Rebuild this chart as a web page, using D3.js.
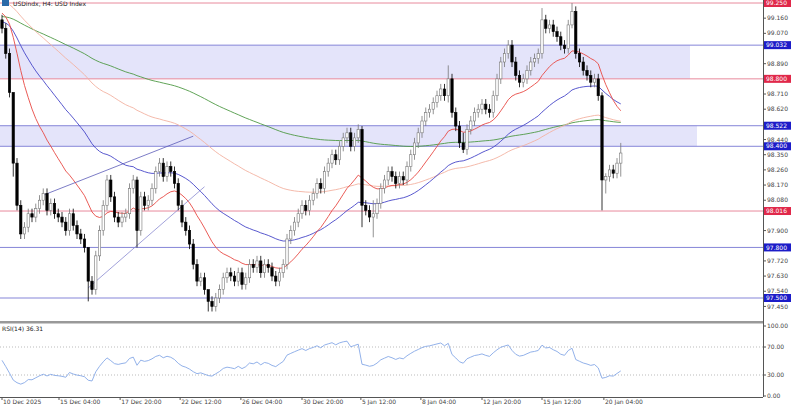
<!DOCTYPE html>
<html>
<head>
<meta charset="utf-8">
<script src="https://cdn.jsdelivr.net/npm/d3@7"></script>
<style>
body { margin: 0; background: #fff; }
text { font-family: "DejaVu Sans", sans-serif; }
</style>
</head>
<body>
<script>
// closes per H4 bar
var closes = [99.10,98.95,98.72,98.30,98.05,97.88,97.92,98.00,97.98,98.03,
  98.08,98.12,98.02,98.06,98.00,97.98,97.95,97.90,98.00,97.93,
  97.88,97.85,97.80,97.60,97.55,97.75,97.90,98.05,98.20,98.10,
  97.98,97.95,97.98,98.00,98.15,98.20,97.90,98.10,98.05,98.08,
  98.15,98.25,98.30,98.22,98.28,98.25,98.18,98.05,97.95,97.90,
  97.82,97.70,97.60,97.62,97.55,97.48,97.45,97.50,97.55,97.62,
  97.65,97.63,97.60,97.65,97.58,97.62,97.70,97.68,97.72,97.65,
  97.70,97.68,97.63,97.60,97.65,97.70,97.85,97.90,97.95,98.00,
  98.05,98.02,98.08,98.12,98.18,98.15,98.25,98.30,98.35,98.32,
  98.40,98.45,98.48,98.40,98.45,98.50,98.05,98.02,97.98,98.00,
  98.06,98.15,98.20,98.25,98.22,98.18,98.22,98.20,98.28,98.35,
  98.42,98.48,98.55,98.60,98.62,98.66,98.70,98.74,98.70,98.80,
  98.60,98.52,98.42,98.38,98.50,98.55,98.60,98.62,98.65,98.62,
  98.60,98.70,98.80,98.90,98.95,99.00,98.90,98.82,98.78,98.80,
  98.85,98.90,98.92,98.95,99.15,99.10,99.12,99.08,99.05,99.00,
  98.98,99.12,99.20,98.95,98.90,98.85,98.82,98.78,98.80,98.70,
  98.20,98.22,98.26,98.24,98.30,98.36];
var firstOpen = 99.15;
var wick = 0.03;
// notable wicks: [bar, high, low]
var bigWicks = [[3,98.38,98.22],[23,97.66,97.48],[36,98.22,97.80],[55,97.52,97.42],
  [96,98.52,97.92],[99,98.08,97.86],[119,98.88,98.66],[123,98.48,98.36],
  [144,99.22,98.92],[152,99.25,99.10],[160,98.72,98.02],[161,98.24,98.12],[165,98.42,98.22]];

var levels = [
  {v: 99.25, label: "99.250", c: "#e0284a"},
  {v: 99.00, label: "99.032", c: "#1c1cc8"},
  {v: 98.80, label: "98.800", c: "#e0284a"},
  {v: 98.522, label: "98.522", c: "#1c1cc8"},
  {v: 98.40, label: "98.400", c: "#1c1cc8"},
  {v: 98.016, label: "98.016", c: "#e0284a"},
  {v: 97.80, label: "97.800", c: "#1c1cc8"},
  {v: 97.50, label: "97.500", c: "#1c1cc8"}
];
var bands = [[99.00, 98.80, 690], [98.522, 98.40, 697]];
var priceTicks = [99.16,99.07,98.89,98.71,98.62,98.44,98.35,98.26,98.17,98.08,97.90,97.72,97.63,97.54,97.45];
var timeLabels = [[0,"10 Dec 2025"],[15.2,"15 Dec 04:00"],[31.5,"17 Dec 20:00"],[47.5,"22 Dec 12:00"],
  [63.7,"26 Dec 04:00"],[80,"30 Dec 20:00"],[95.7,"5 Jan 12:00"],[111.7,"8 Jan 04:00"],
  [128,"12 Jan 20:00"],[144,"15 Jan 12:00"],[160.5,"20 Jan 04:00"]];
var trendLines = [[[11,98.11],[51,98.46]], [[23,97.56],[54,98.16]]];
// moving averages: period, seed value, colour
var mas = [
  {p: 200, seed: 99.17, c: "#4f9a45"},
  {p: 100, seed: 99.26, c: "#f3b2a2"},
  {p: 50, seed: 99.14, c: "#4646c8"},
  {p: 20, seed: 99.20, c: "#e84a44"}
];

var W = 792, H = 405, plotR = 763;
var svg = d3.select("body").append("svg").attr("width", W).attr("height", H);

var x = d3.scaleLinear().domain([0, 1]).range([2, 5.75]);
var y = d3.scaleLinear().domain([97.50, 99.25]).range([298, 3]);
var yR = d3.scaleLinear().domain([0, 100]).range([396, 326]);

svg.append("clipPath").attr("id", "clip").append("rect")
  .attr("x", 0).attr("y", 0).attr("width", plotR).attr("height", 321);

// bands
svg.selectAll(".band").data(bands).enter().append("rect")
  .attr("x", 0).attr("y", function(d){ return y(d[0]); })
  .attr("width", function(d){ return d[2]; })
  .attr("height", function(d){ return y(d[1]) - y(d[0]); })
  .style("fill", "#e4e4fa");

// levels
svg.selectAll(".lvl").data(levels).enter().append("line")
  .attr("x1", 0).attr("x2", plotR)
  .attr("y1", function(d){ return y(d.v); }).attr("y2", function(d){ return y(d.v); })
  .style("stroke", function(d){ return d.c == "#e0284a" ? "#e88a9c" : "#8585d8"; })
  .style("stroke-width", 1);

var g = svg.append("g").attr("clip-path", "url(#clip)");

// moving averages
mas.forEach(function(m){
  var a = 2 / (m.p + 1), e = m.seed, pts = [];
  closes.forEach(function(c, i){ e = e + a * (c - e); pts.push([i, e]); });
  g.append("path").datum(pts)
    .attr("d", d3.line().x(function(d){ return x(d[0]); }).y(function(d){ return y(d[1]); }))
    .style("fill", "none").style("stroke", m.c).style("stroke-width", 0.9);
});

// trend lines
g.selectAll(".tl").data(trendLines).enter().append("line")
  .attr("x1", function(d){ return x(d[0][0]); }).attr("y1", function(d){ return y(d[0][1]); })
  .attr("x2", function(d){ return x(d[1][0]); }).attr("y2", function(d){ return y(d[1][1]); })
  .style("stroke", function(d, i){ return i == 0 ? "#5a5ab8" : "#8a8ad0"; }).style("stroke-width", 0.8);

// candles
var bars = closes.map(function(c, i){
  var o = i == 0 ? firstOpen : closes[i - 1];
  var hi = Math.max(o, c) + wick, lo = Math.min(o, c) - wick;
  bigWicks.forEach(function(w){ if (w[0] == i) { hi = w[1]; lo = w[2]; } });
  return {i: i, o: o, c: c, h: hi, l: lo};
});
var cg = g.selectAll(".candle").data(bars).enter().append("g");
cg.append("line")
  .attr("x1", function(d){ return x(d.i); }).attr("x2", function(d){ return x(d.i); })
  .attr("y1", function(d){ return y(d.h); }).attr("y2", function(d){ return y(d.l); })
  .style("stroke", function(d){ return d.c < d.o ? "#000" : "#777"; }).style("stroke-width", 0.8);
cg.append("rect")
  .attr("x", function(d){ return x(d.i) - 1.2; }).attr("width", 2.4)
  .attr("y", function(d){ return y(Math.max(d.o, d.c)); })
  .attr("height", function(d){ return Math.max(0.8, Math.abs(y(d.o) - y(d.c))); })
  .style("fill", function(d){ return d.c < d.o ? "#000" : "#fff"; })
  .style("stroke", function(d){ return d.c < d.o ? "#000" : "#777"; }).style("stroke-width", 0.6);

// title
svg.append("rect").attr("x", 2).attr("y", 0).attr("width", 7).attr("height", 6).style("fill", "#2a6aa8");
svg.append("text").attr("x", 13).attr("y", 6).style("font-size", "6px").style("fill", "#222")
  .text("USDindx, H4:  USD Index");

// axes frame
svg.append("line").attr("x1", plotR + 0.5).attr("x2", plotR + 0.5).attr("y1", 0).attr("y2", 397).style("stroke", "#555");
svg.append("rect").attr("x", 0).attr("y", 321).attr("width", plotR).attr("height", 2.5).style("fill", "#999");
svg.append("line").attr("x1", 0).attr("x2", plotR).attr("y1", 397.5).attr("y2", 397.5).style("stroke", "#555");

// price ticks
var pt = svg.selectAll(".pt").data(priceTicks).enter().append("g")
  .attr("transform", function(d){ return "translate(" + plotR + "," + y(d) + ")"; });
pt.append("line").attr("x1", 0).attr("x2", 3).style("stroke", "#555");
pt.append("text").attr("x", 4).attr("dy", "0.35em").style("font-size", "6px").style("fill", "#444")
  .text(function(d){ return d.toFixed(3); });

// level labels
var lb = svg.selectAll(".lb").data(levels).enter().append("g")
  .attr("transform", function(d){ return "translate(" + (plotR + 1) + "," + y(d.v) + ")"; });
lb.append("rect").attr("x", 0).attr("y", -4).attr("width", 27).attr("height", 8).style("fill", function(d){ return d.c; });
lb.append("text").attr("x", 2).attr("dy", "0.35em").style("font-size", "6px").style("fill", "#fff")
  .text(function(d){ return d.label; });

// RSI (Wilder, 14)
var ag = 0.03, al = 0.025, rsi = [];
closes.forEach(function(c, i){
  var ch = c - (i == 0 ? firstOpen : closes[i - 1]);
  ag = (ag * 13 + Math.max(ch, 0)) / 14;
  al = (al * 13 + Math.max(-ch, 0)) / 14;
  rsi.push([i, 100 - 100 / (1 + ag / al)]);
});
[70, 30].forEach(function(v){
  svg.append("line").attr("x1", 0).attr("x2", plotR).attr("y1", yR(v)).attr("y2", yR(v))
    .style("stroke", "#bbb").style("stroke-dasharray", "1,2");
});
svg.append("path").datum(rsi)
  .attr("d", d3.line().x(function(d){ return x(d[0]); }).y(function(d){ return yR(d[1]); }))
  .style("fill", "none").style("stroke", "#86a8e6").style("stroke-width", 0.9);
svg.append("text").attr("x", 2).attr("y", 331).style("font-size", "6px").style("fill", "#222").text("RSI(14) 36.31");
var rt = svg.selectAll(".rt").data([100, 70, 30, 0]).enter().append("g")
  .attr("transform", function(d){ return "translate(" + plotR + "," + yR(d) + ")"; });
rt.append("line").attr("x1", 0).attr("x2", 3).style("stroke", "#555");
rt.append("text").attr("x", 4).attr("dy", "0.35em").style("font-size", "6px").style("fill", "#444")
  .text(function(d){ return d.toFixed(2); });

// time labels
var tl = svg.selectAll(".tm").data(timeLabels).enter().append("g")
  .attr("transform", function(d){ return "translate(" + x(d[0]) + ",397)"; });
tl.append("line").attr("y1", 0).attr("y2", 3).style("stroke", "#555");
tl.append("text").attr("x", 1).attr("y", 7).style("font-size", "6px").style("fill", "#444")
  .text(function(d){ return d[1]; });
</script>
</body>
</html>
